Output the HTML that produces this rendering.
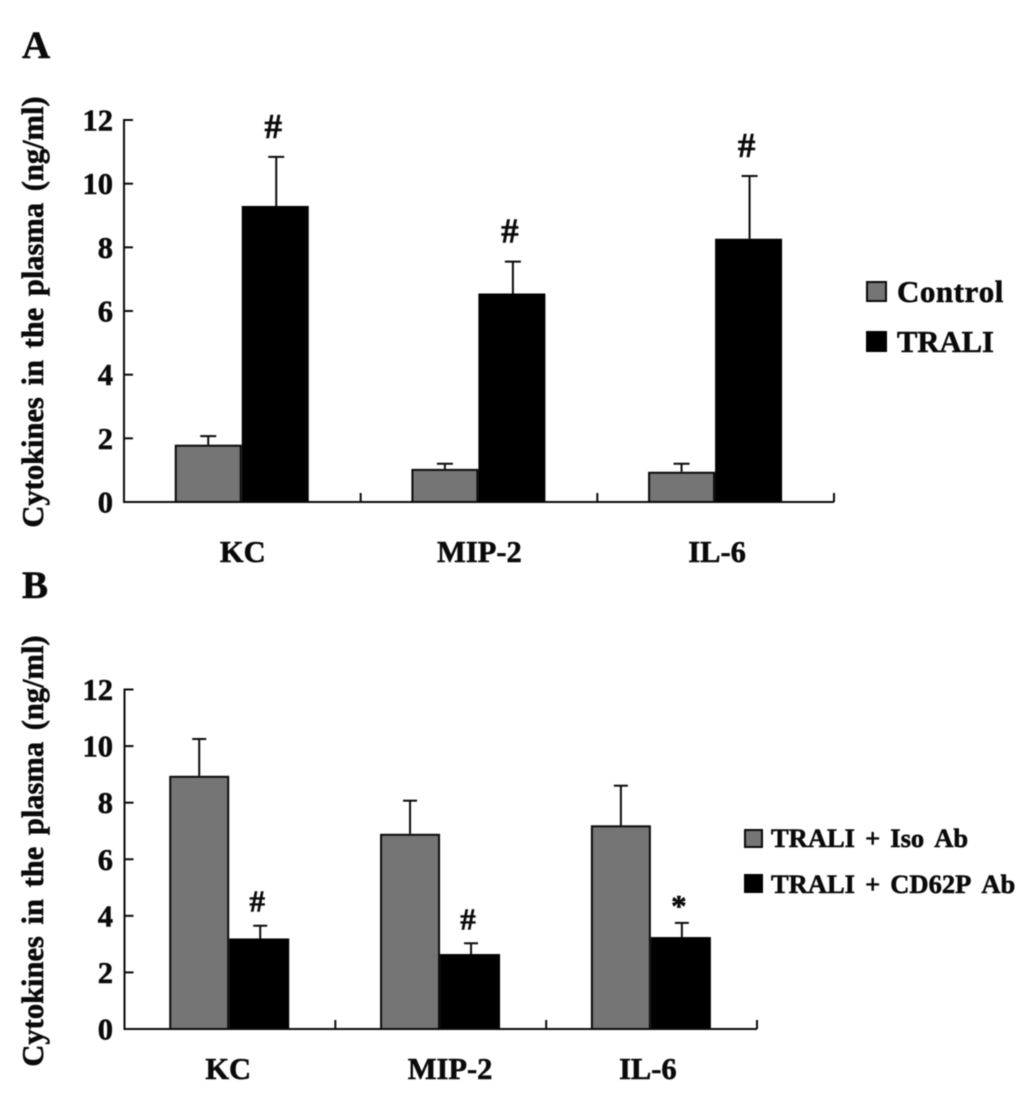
<!DOCTYPE html>
<html lang="en">
<head>
<meta charset="utf-8">
<title>Cytokines in the plasma</title>
<style>
html,body{margin:0;padding:0;background:#fff;width:1033px;height:1096px;overflow:hidden}
svg{display:block;filter:blur(0.45px)}
text{font-family:"Liberation Serif",serif;font-weight:bold;fill:#0a0a0a;stroke:#0a0a0a;stroke-width:.55px;font-kerning:none}
</style>
</head>
<body>
<svg id="figure" xmlns="http://www.w3.org/2000/svg" width="1033" height="1096" viewBox="0 0 1033 1096">
  <text x="22" y="58" font-size="39">A</text>
  <text x="22" y="598" font-size="39">B</text>
  <g id="chart-a"></g>
  <g id="chart-b"></g>
  <g>
    <g>
      <rect x="867" y="282" width="19" height="19" fill="#757575" stroke="#0a0a0a" stroke-width="2"/>
      <text x="897" y="302" font-size="31" letter-spacing="0.5">Control</text>
    </g>
    <g>
      <rect x="866" y="331" width="21" height="21" fill="#000"/>
      <text x="897" y="352" font-size="30.6">TRALI</text>
    </g>
  </g>
  <g>
    <g>
      <rect x="745" y="830" width="17" height="17" fill="#757575" stroke="#0a0a0a" stroke-width="2"/>
      <text x="771" y="847" font-size="26.5" word-spacing="3.5">TRALI + Iso Ab</text>
    </g>
    <g>
      <rect x="744" y="874" width="19" height="19" fill="#000"/>
      <text x="771" y="893" font-size="26.5" word-spacing="3.5">TRALI + CD62P Ab</text>
    </g>
  </g>
</svg>
<script>
const categoriesA = ['KC', 'MIP-2', 'IL-6'];
const controlValues = [1.8, 1.04, 0.95];
const controlErrorTops = [2.07, 1.2, 1.2];
const traliValues = [9.3, 6.55, 8.27];
const traliErrorTops = [10.84, 7.55, 10.24];
const markersA = ['', '', ''];
const traliMarkersA = ['#', '#', '#'];

const categoriesB = ['KC', 'MIP-2', 'IL-6'];
const isoValues = [8.95, 6.9, 7.2];
const isoErrorTops = [10.25, 8.07, 8.6];
const cd62pValues = [3.2, 2.65, 3.25];
const cd62pErrorTops = [3.65, 3.03, 3.75];
const markersB = ['', '', ''];
const cd62pMarkersB = ['#', '#', '*'];

const tickLabels = [0, 2, 4, 6, 8, 10, 12];
const yMax = 12;
const yTitle = 'Cytokines in the plasma (ng/ml)';

const NS = 'http://www.w3.org/2000/svg';
function make(parent, tag, props, text) {
  const el = document.createElementNS(NS, tag);
  for (const k in props) el.setAttribute(k, props[k]);
  if (text !== undefined) el.textContent = text;
  parent.appendChild(el);
  return el;
}
const INK = '#0a0a0a';

function drawChart(root, o) {
  const yScale = function (v) { return o.bottom - (v / yMax) * (o.bottom - o.top); };
  const step = (o.right - o.left) / o.categories.length;
  const centre = function (i) { return o.left + step * (i + 0.5) + o.shift; };

  const yTitleEl = make(root, 'text', {transform: 'translate(43,' + o.titleY + ') rotate(-90)', 'text-anchor': 'middle', 'font-size': 30.5, 'word-spacing': 4}, yTitle);
  
  

  o.series.forEach(function (s, si) {
    const group = make(root, 'g', {});
    
    
    s.values.forEach(function (v, i) {
      const barLeft = si === 0 ? centre(i) - o.barW : centre(i);
      const errX = barLeft + o.barW / 2 + (si === 0 ? 0 : 1);
      const errLine = make(group, 'line', {x1: errX, x2: errX, y1: yScale(s.errs[i]), y2: yScale(v), stroke: INK, 'stroke-width': 2});
      
      
      const cap = make(group, 'line', {x1: errX - o.capW, x2: errX + o.capW, y1: yScale(s.errs[i]), y2: yScale(s.errs[i]), stroke: INK, 'stroke-width': 2});
      
      
      const bar = make(group, 'rect', si === 0
        ? {x: barLeft + 1, y: yScale(v) + 1, width: o.barW - 2, height: o.bottom - yScale(v) - 1, fill: '#757575', stroke: INK, 'stroke-width': 2}
        : {x: barLeft, y: yScale(v), width: o.barW, height: o.bottom - yScale(v), fill: '#000'});
      
      
      if (s.marks[i]) {
        const isStar = s.marks[i] === '*';
        const mark = make(group, 'text', {x: errX + o.markDx, y: yScale(s.errs[i]) - o.markGap + (isStar ? 7 : 0), 'text-anchor': 'middle', 'font-size': o.markSize, 'stroke-width': 0.9}, s.marks[i]);
        
        
      }
    });
  });

  const axes = make(root, 'path', {d: 'M' + (o.left + 8.5) + ' ' + o.top + 'H' + o.left + 'V' + o.bottom + 'H' + o.right, fill: 'none', stroke: INK, 'stroke-width': 2});
  
  

  tickLabels.forEach(function (t) {
    const y = yScale(t);
    const tick = make(root, 'line', {x1: o.left, x2: o.left + 9, y1: y, y2: y, stroke: INK, 'stroke-width': 2});
    
    
    const label = make(root, 'text', {x: 113, y: y + 10.5, 'text-anchor': 'end', 'font-size': 30.5}, String(t));
    
    
  });

  o.categories.forEach(function (c, i) {
    const x = o.left + step * (i + 1);
    const tick = make(root, 'line', {x1: x, x2: x, y1: o.bottom, y2: o.bottom - 9, stroke: INK, 'stroke-width': 2});
    
    
    const label = make(root, 'text', {x: centre(i) + o.labelDx(i), y: o.labelY, 'text-anchor': 'middle', 'font-size': 30.5}, c);
    
    
  });
}

drawChart(document.getElementById('chart-a'), {
  categories: categoriesA, left: 124, right: 834, top: 120, bottom: 502,
  shift: -0.6, barW: 67, capW: 8, markDx: -3, markGap: 19, markSize: 35,
  titleY: 312, labelY: 562,
  labelDx: function (i) { return i === 2 ? 2 : 1; },
  series: [
    {name: 'control', values: controlValues, errs: controlErrorTops, marks: markersA},
    {name: 'trali', values: traliValues, errs: traliErrorTops, marks: traliMarkersA}
  ]
});

drawChart(document.getElementById('chart-b'), {
  categories: categoriesB, left: 124.5, right: 757, top: 689.5, bottom: 1029,
  shift: -0.7, barW: 60, capW: 7, markDx: -3, markGap: 14, markSize: 31,
  titleY: 851, labelY: 1079,
  labelDx: function (i) { return i === 0 ? -1 : (i === 1 ? 10 : -3); },
  series: [
    {name: 'iso-ab', values: isoValues, errs: isoErrorTops, marks: markersB},
    {name: 'cd62p-ab', values: cd62pValues, errs: cd62pErrorTops, marks: cd62pMarkersB}
  ]
});
</script>
</body>
</html>
